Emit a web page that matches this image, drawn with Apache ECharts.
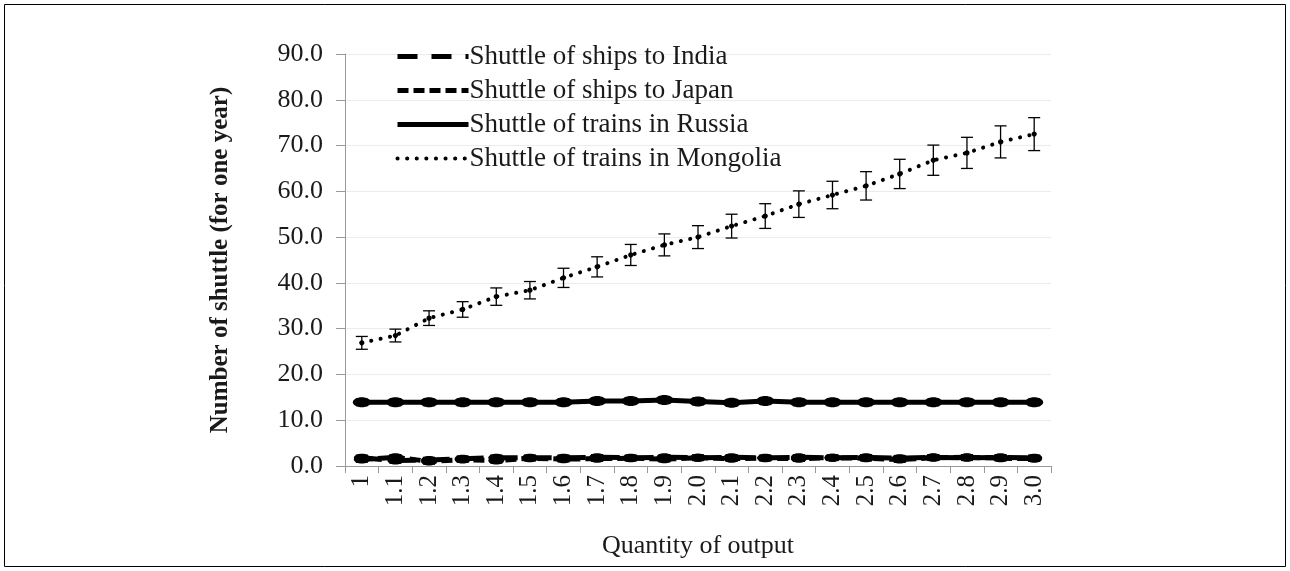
<!DOCTYPE html>
<html>
<head>
<meta charset="utf-8">
<script src="https://cdn.jsdelivr.net/npm/echarts@6/dist/echarts.min.js"></script>
<style>
html,body{margin:0;padding:0;background:#fff;}
#chart{width:1290px;height:571px;}
</style>
</head>
<body>
<div id="chart"></div>
<script>
// ---- data ----
const categories = ['1','1.1','1.2','1.3','1.4','1.5','1.6','1.7','1.8','1.9','2.0','2.1','2.2','2.3','2.4','2.5','2.6','2.7','2.8','2.9','3.0'];
const seriesNames = ['Shuttle of ships to India','Shuttle of ships to Japan','Shuttle of trains in Russia','Shuttle of trains in Mongolia'];
const india    = [1.8,1.2,1.3,1.6,1.8,1.8,1.8,1.9,1.8,1.9,1.8,1.9,1.8,1.9,1.8,1.9,1.7,1.9,1.8,1.9,1.8];
const japan    = [1.4,1.9,1.0,1.4,1.2,1.7,1.5,1.6,1.7,1.5,1.8,1.6,1.7,1.6,1.8,1.7,1.4,1.8,1.9,1.7,1.6];
const russia   = [13.9,13.9,13.9,13.9,13.9,13.9,13.9,14.2,14.2,14.4,14.1,13.8,14.2,13.9,13.9,13.9,13.9,13.9,13.9,13.9,13.9];
const mongolia = [26.9,28.5,32.3,34.2,37.0,38.4,41.1,43.5,46.1,48.3,50.0,52.4,54.6,57.2,59.2,61.2,63.8,66.8,68.4,70.8,72.5];
const indiaErr    = [0.4,0.4,0.4,0.4,0.4,0.4,0.4,0.4,0.4,0.4,0.4,0.4,0.4,0.4,0.4,0.4,0.4,0.4,0.4,0.4,0.4];
const japanErr    = [0.4,0.4,0.4,0.4,0.4,0.4,0.4,0.4,0.4,0.4,0.4,0.4,0.4,0.4,0.4,0.4,0.4,0.4,0.4,0.4,0.4];
const russiaErr   = [0.5,0.5,0.5,0.5,0.5,0.5,0.5,0.5,0.5,0.5,0.5,0.5,0.5,0.5,0.5,0.5,0.5,0.5,0.5,0.5,0.5];
const mongoliaErr = [1.4,1.4,1.6,1.7,1.9,1.9,2.1,2.2,2.3,2.4,2.5,2.6,2.7,2.9,3.0,3.1,3.2,3.3,3.4,3.5,3.6];

const FONT = '"Liberation Serif","Times New Roman",serif';
const TXT = '#1a1a1a';
const lineStyles = [
  {color:'#000', width:5, type:[20,14], cap:'butt'},
  {color:'#000', width:5, type:[11,5], cap:'butt'},
  {color:'#000', width:5, type:'solid'},
  {color:'#000', width:4, type:[0.1,9.5], cap:'round'}
];

function errData(vals, errs){
  return vals.map((v,i)=>[i, v, v-errs[i], v+errs[i]]);
}
function errRender(capHalf, lw, blob){
  return function(params, api){
    const i = api.value(0);
    const c = api.coord([i, api.value(1)]);
    const lo = api.coord([i, api.value(2)]);
    const hi = api.coord([i, api.value(3)]);
    const st = {stroke:'#000', lineWidth:lw};
    const ch = [
      {type:'line', shape:{x1:c[0],y1:lo[1],x2:c[0],y2:hi[1]}, style:st},
      {type:'line', shape:{x1:c[0]-capHalf,y1:lo[1],x2:c[0]+capHalf,y2:lo[1]}, style:st},
      {type:'line', shape:{x1:c[0]-capHalf,y1:hi[1],x2:c[0]+capHalf,y2:hi[1]}, style:st}
    ];
    if (blob) {
      ch.push({type:'ellipse', shape:{cx:c[0], cy:c[1], rx:blob[0], ry:blob[1]}, style:{fill:'#000'}});
    }
    return {type:'group', children: ch};
  };
}

const chart = echarts.init(document.getElementById('chart'), null, {renderer:'canvas'});
chart.setOption({
  animation:false,
  backgroundColor:'#fff',
  graphic:[{type:'rect', shape:{x:4.5,y:4.5,width:1281,height:562}, style:{fill:'none',stroke:'#000',lineWidth:1}, z:-1}],
  grid:{left:345, right:239, top:54, bottom:105},
  legend:{
    orient:'vertical', left:390, top:38, itemWidth:71, itemHeight:16, itemGap:7,
    data: seriesNames.map((n,k)=>({name:n, lineStyle:lineStyles[k], itemStyle:{opacity:0}})),
    itemStyle:{opacity:0},
    textStyle:{fontFamily:FONT, fontSize:27, color:TXT, padding:[0,0,0,-4]},
    inactiveColor:'#000'
  },
  xAxis:{
    type:'category', data:categories, boundaryGap:true,
    name:'Quantity of output', nameLocation:'middle', nameGap:67,
    nameTextStyle:{fontFamily:FONT, fontSize:26, color:TXT},
    axisLine:{lineStyle:{color:'#999', width:1}},
    axisTick:{show:true, interval:0, length:7, lineStyle:{color:'#999'}},
    axisLabel:{interval:0, rotate:90, fontFamily:FONT, fontSize:25, color:TXT, margin:9}
  },
  yAxis:{
    type:'value', min:0, max:90, interval:10,
    name:'Number of shuttle (for one year)', nameLocation:'middle', nameGap:112,
    nameTextStyle:{fontFamily:FONT, fontSize:25, fontWeight:'bold', color:TXT},
    axisLine:{show:true, lineStyle:{color:'#999', width:1}},
    axisTick:{show:true, length:9, lineStyle:{color:'#999'}},
    axisLabel:{fontFamily:FONT, fontSize:26, color:TXT, margin:22, formatter:v=>v.toFixed(1)},
    splitLine:{lineStyle:{color:'#ececec', width:1}}
  },
  series:[
    {name:seriesNames[0], type:'line', data:india, symbol:'none', color:'#000', lineStyle:lineStyles[0]},
    {name:seriesNames[1], type:'line', data:japan, symbol:'none', color:'#000', lineStyle:lineStyles[1]},
    {name:seriesNames[2], type:'line', data:russia, symbol:'none', color:'#000', lineStyle:lineStyles[2]},
    {name:seriesNames[3], type:'line', data:mongolia, symbol:'none', color:'#000', lineStyle:lineStyles[3]},
    {type:'custom', data:errData(india, indiaErr), renderItem:errRender(6,3,[8,4]), z:3, silent:true},
    {type:'custom', data:errData(japan, japanErr), renderItem:errRender(6,3,[8,4]), z:3, silent:true},
    {type:'custom', data:errData(russia, russiaErr), renderItem:errRender(6,3,[9,5]), z:3, silent:true},
    {type:'custom', data:errData(mongolia, mongoliaErr), renderItem:errRender(6,1.3,[2.6,2.6]), z:3, silent:true}
  ]
});
</script>
</body>
</html>
